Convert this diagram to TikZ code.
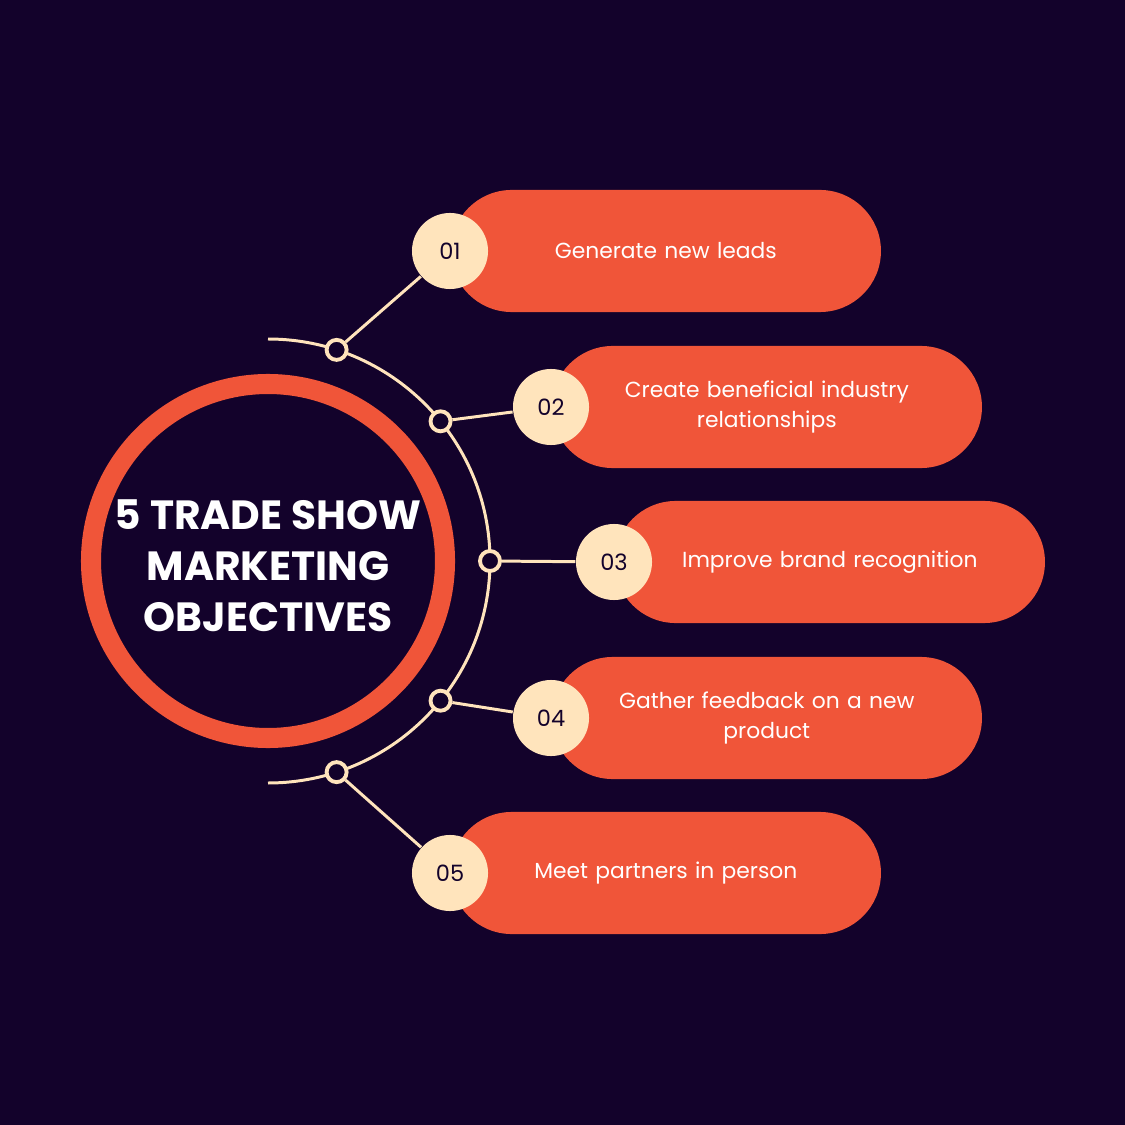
\documentclass[tikz,border=0pt]{standalone}
\usepackage{fontspec}
\setmainfont{Poppins}
\usetikzlibrary{calc}
\definecolor{night}{HTML}{13022B}
\definecolor{coral}{HTML}{F05539}
\definecolor{cream}{HTML}{FFE4BC}
\tikzset{
  pill/.style={fill=coral, rounded corners=0.61cm, minimum width=4.3cm, minimum height=1.22cm, anchor=west, text=white, font=\fontsize{6.2}{8.6}\selectfont, align=center},
  badge/.style={circle, fill=cream, minimum size=0.76cm, inner sep=0pt, text=night, font=\fontsize{6.4}{8}\selectfont},
  knot/.style={circle, draw=cream, line width=1.1pt, fill=night, minimum size=0.2cm, inner sep=0pt},
  link/.style={cream, line width=0.85pt}
}
\begin{document}
\begin{tikzpicture}[x=0.01cm, y=-0.01cm]
  \fill[night] (0,0) rectangle (1125,1125);
  \useasboundingbox (0,0) rectangle (1125,1125);
  % title ring
  \draw[coral, line width=5.7pt, fill=night] (268,561) circle (177);
  \node[text=white, font=\bfseries\fontsize{11.6}{14.5}\selectfont, align=center] (title) at (268,566) {5 TRADE SHOW\\MARKETING\\OBJECTIVES};
  % arc
  \draw[link] (268,339) arc[start angle=-90, end angle=90, radius=222];
  % objectives
  \foreach \n/\ang/\bx/\by/\txt in {
      01/72/450/251/{Generate new leads},
      02/39/551/407/{Create beneficial industry\\relationships},
      03/0/614/562/{Improve brand recognition},
      04/-39/551/718/{Gather feedback on a new\\product},
      05/-72/450/873/{Meet partners in person}} {
    \node[pill, text width=3.3cm] (pill\n) at (\bx,\by) {\txt};
    \node[badge] (badge\n) at (\bx,\by) {\n};
    \node[knot] (knot\n) at ($(268,561)+({222*cos(\ang)},{-222*sin(\ang)})$) {};
    \draw[link] (knot\n) -- (badge\n);
  }
\end{tikzpicture}
\end{document}
